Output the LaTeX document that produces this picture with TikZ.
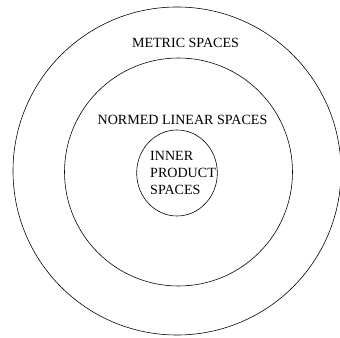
\documentclass[tikz,border=0pt]{standalone}
\usepackage{fontspec}
\setmainfont{Liberation Serif}
\usepackage{tikz}
\usetikzlibrary{positioning}

\begin{document}
\begin{tikzpicture}[
  every node/.style={font=\fontsize{12}{14.4}\selectfont},
  label/.style={inner sep=0pt, align=center},
  ring/.style={draw=black, line width=0.5pt},
]
\useasboundingbox (0,0) rectangle (10.2,10.11);

\draw[ring] (5.31,4.98)  circle (4.92);
\draw[ring] (5.355,4.95) circle (3.42);
\draw[ring] (5.31,4.92)  ellipse (1.21 and 1.29);

\node[label]  at (5.565,8.82) (metric) {METRIC SPACES};
\node[label]  at (5.475,6.51) (normed) {NORMED LINEAR SPACES};
\node[label, align=left, anchor=west] at (4.50,4.92) (inner) {INNER\\PRODUCT\\SPACES};
\end{tikzpicture}
\end{document}
